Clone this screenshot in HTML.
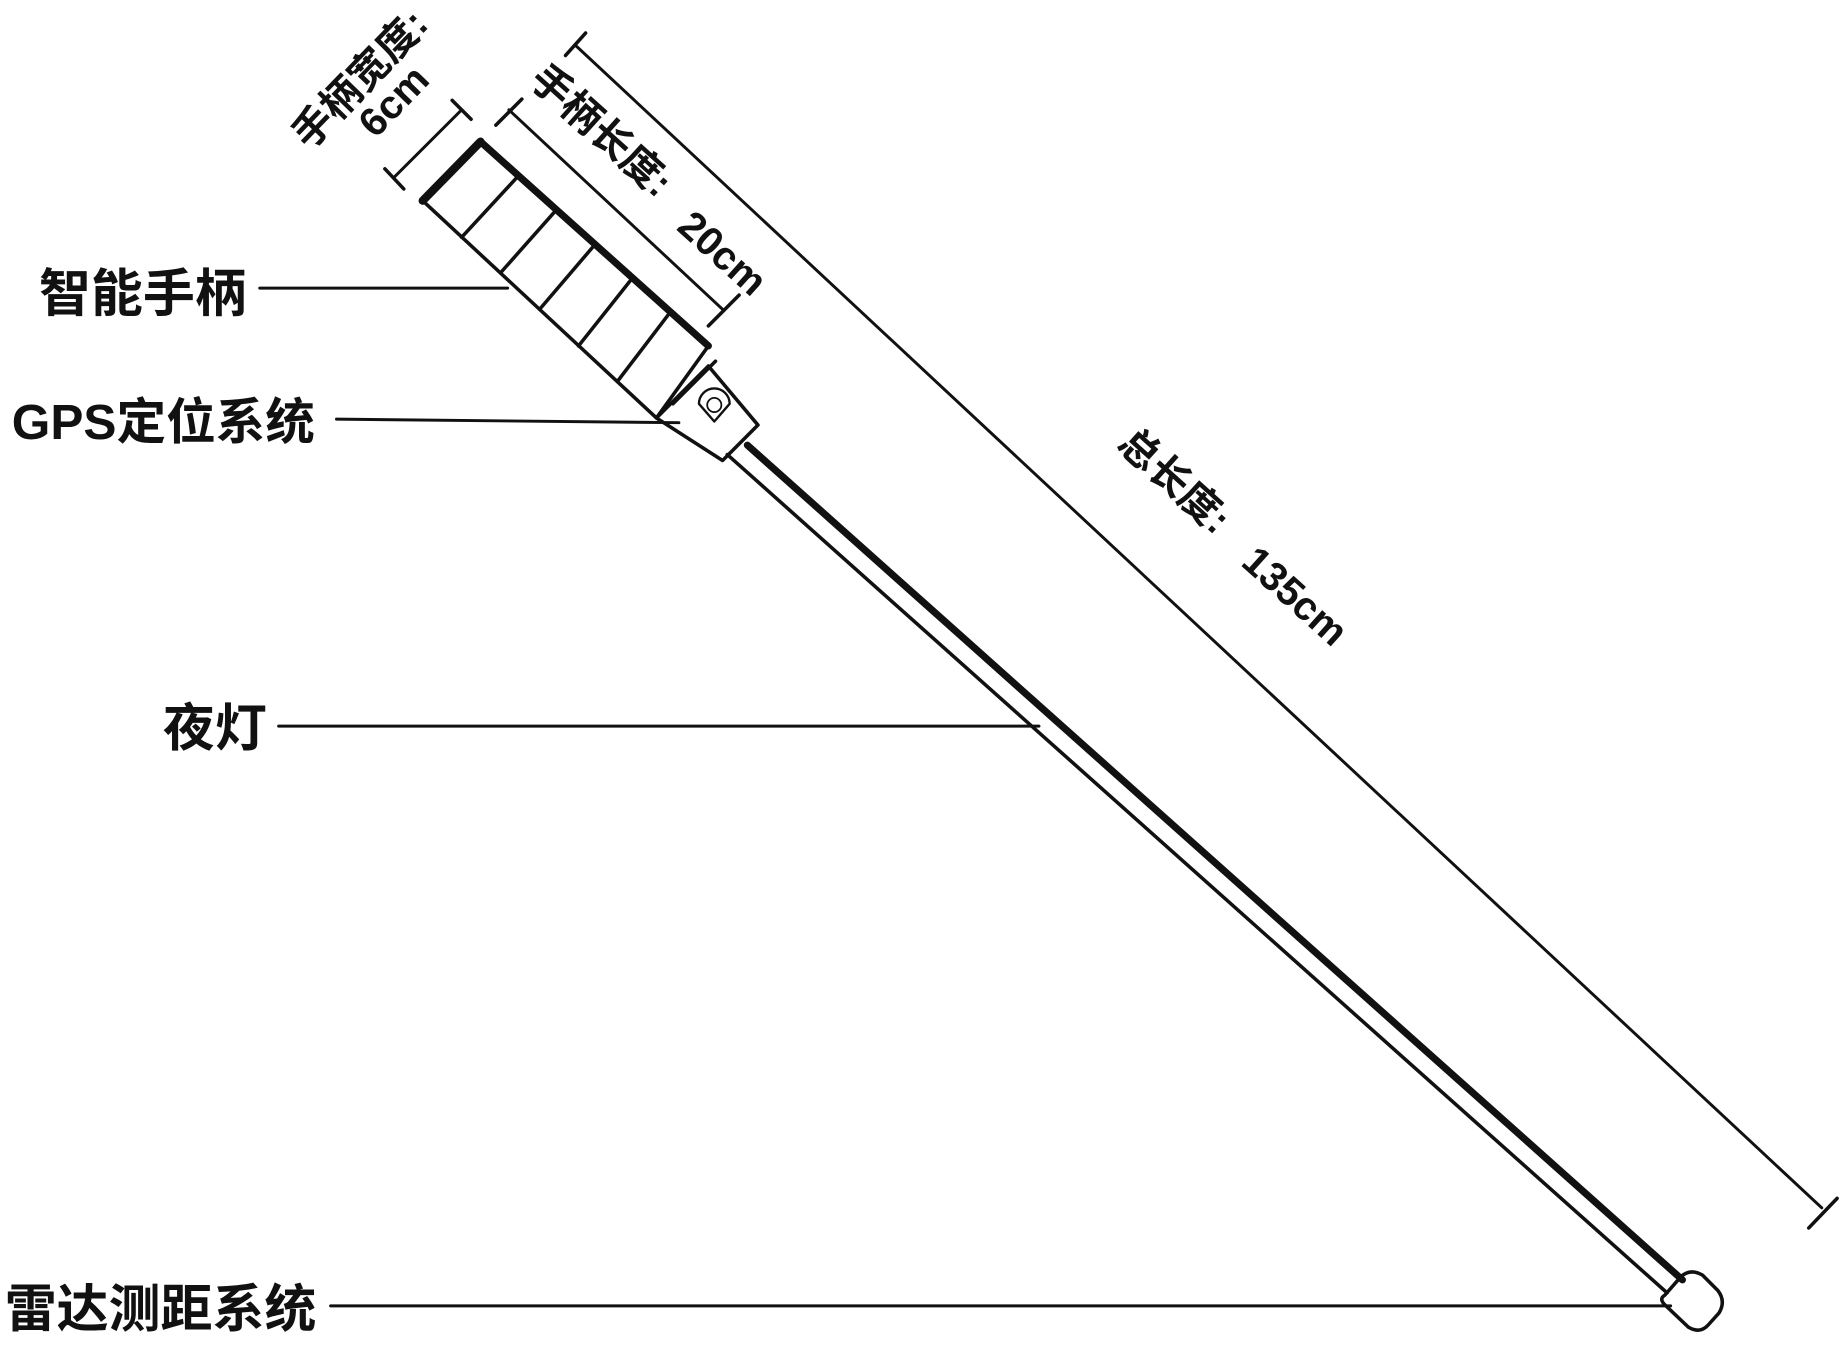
<!DOCTYPE html>
<html><head><meta charset="utf-8"><style>
html,body{margin:0;padding:0;background:#fff;width:1843px;height:1346px;overflow:hidden}
svg{display:block}
text{font-family:"Liberation Sans","Noto Sans CJK SC",sans-serif;fill:#111;font-weight:bold}
</style></head><body>
<svg width="1843" height="1346" viewBox="0 0 1561 1140" preserveAspectRatio="none" xmlns="http://www.w3.org/2000/svg">
<g stroke="#111" fill="none" stroke-linecap="round" stroke-linejoin="round">
<!-- handle -->
<path d="M358,170 L407,120 L600,293 L556,354 Z" stroke-width="3"/>
<path d="M358,170 L407,120" stroke-width="7"/>
<path d="M407,120 L600,293" stroke-width="6"/>
<path d="M391,201 L439,149 M424,231 L471,178 M457,262 L504,207 M490,293 L536,235 M523,323 L568,264" stroke-width="3"/>
<!-- connector -->
<path d="M556,354 L600,310 L642,360 L612,390 Z" stroke-width="3"/>
<path d="M570,342 L606,306" stroke-width="3"/>
<path d="M592,342 a13,13 0 1,1 26,0 l-13,15 z" stroke-width="2"/>
<circle cx="605" cy="343" r="6" stroke-width="1.5"/>
<!-- shaft -->
<path d="M633,377 L1425,1084" stroke-width="6"/>
<path d="M616,385 L1412,1095" stroke-width="3"/>
<!-- cap -->
<path d="M1410,1097 L1424,1081 Q1432,1074 1442,1080 L1455,1093 Q1462,1102 1456,1112 L1447,1122 Q1440,1130 1430,1124 L1410,1105 Q1405,1100 1410,1097 Z" stroke-width="3"/>
<!-- dimension total -->
<path d="M487,38 L1543,1023" stroke-width="2.5"/>
<path d="M479,47 L496,28 M1532,1040 L1556,1015" stroke-width="3"/>
<!-- handle length dim -->
<path d="M431,93 L612,262" stroke-width="2.5"/>
<path d="M420,106 L442,84 M600,276 L626,250" stroke-width="3"/>
<!-- handle width dim -->
<path d="M334,150 L391,93" stroke-width="2.5"/>
<path d="M326,143 L342,160 M383,85 L399,101" stroke-width="3"/>
<!-- leader lines -->
<path d="M220,244 L430,244" stroke-width="2.5"/>
<path d="M285,355 L575,358" stroke-width="2.5"/>
<path d="M236,615 L880,615" stroke-width="2.5"/>
<path d="M280,1106 L1415,1106" stroke-width="2.5"/>
</g>
<text x="33" y="264" font-size="44">智能手柄</text>
<text x="10" y="372" font-size="42">GPS定位系统</text>
<text x="138" y="632" font-size="44">夜灯</text>
<text x="4" y="1124" font-size="44">雷达测距系统</text>
<text transform="translate(262,128) rotate(-46)" font-size="34">手柄宽度:</text>
<text transform="translate(318,118) rotate(-46)" font-size="34">6cm</text>
<text transform="translate(447,70) rotate(42)" font-size="34">手柄长度:</text>
<text transform="translate(572,194) rotate(42)" font-size="34">20cm</text>
<text transform="translate(945,378) rotate(42)" font-size="34">总长度:</text>
<text transform="translate(1050,478) rotate(42)" font-size="34">135cm</text>
</svg>
</body></html>
